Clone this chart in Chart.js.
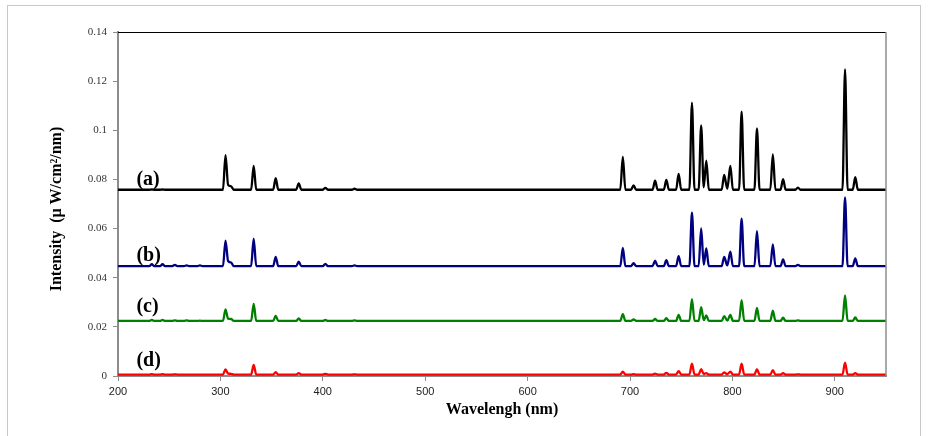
<!DOCTYPE html>
<html><head><meta charset="utf-8">
<script src="https://cdn.jsdelivr.net/npm/chart.js@4"></script>
<style>
html,body{margin:0;padding:0;background:#fff;}
#wrap{position:relative;width:929px;height:436px;overflow:hidden;}
#frame{position:absolute;left:7px;top:5px;width:914px;height:440px;border:1px solid #c8c8c8;box-sizing:border-box;}
canvas{position:absolute;left:0;top:0;}
</style></head><body>
<div id="wrap"><div id="frame"></div><canvas id="c" width="929" height="436"></canvas></div>
<script>
// ---- data ----
const seriesNames = ['(a)', '(b)', '(c)', '(d)'];
const xTicks = [200, 300, 400, 500, 600, 700, 800, 900];
const yTicks = [0, 0.02, 0.04, 0.06, 0.08, 0.1, 0.12, 0.14];
const yTickLabels = ['0', '0.02', '0.04', '0.06', '0.08', '0.1', '0.12', '0.14'];
const xTitle = 'Wavelengh (nm)';
const yTitle = 'Intensity  (\u03bc W/cm\u00b2/nm)';

const wavelengths = [200,
 230.5,233,235.5, 241,243.5,246, 253,255.5,258, 264.5,267,269.5, 277.5,280,282.5,
 302.5,305,307.5,310.5,313,
 330,332.5,335, 351.5,354,356.5, 374,376.5,379, 400,402.5,405, 428.5,431,433.5,
 690.5,693,695.5, 701,703.5,706, 722,724.5,727, 733,735.5,738, 745,747.5,750, 758,760.5,763,
 767,769.5,772,774.5,777,
 789.5,792,795,798,800.5,
 806.5,809,811.5, 821.5,824,826.5, 837,839.5,842, 847,849.5,852, 861.5,864,866.5, 907.5,910,912.5, 917.5,920,922.5,
 950];

const seriesA = [.0758,
 .0758,.0759,.0758, .0758,.0759,.0758, .0758,.0758,.0758, .0758,.0758,.0758, .0758,.0758,.0758,
 .0758,.0899,.0778,.0772,.0758,
 .0758,.0855,.0758, .0758,.0805,.0758, .0758,.0784,.0758, .0758,.0766,.0758, .0758,.0762,.0758,
 .0758,.0892,.0758, .0758,.0776,.0758, .0758,.0795,.0758, .0758,.0798,.0758, .0758,.0822,.0758, .0758,.1112,.0758,
 .0758,.1020,.0768,.0876,.0758,
 .0758,.0818,.0762,.0855,.0758,
 .0758,.1076,.0758, .0758,.1008,.0758, .0758,.0902,.0758, .0758,.0801,.0758, .0758,.0767,.0758, .0758,.1248,.0758, .0758,.0809,.0758,
 .0758];

const seriesB = [.0447,
 .0447,.0455,.0447, .0447,.0455,.0447, .0447,.0452,.0447, .0447,.0450,.0447, .0447,.0450,.0447,
 .0447,.0551,.0468,.0462,.0447,
 .0447,.0559,.0447, .0447,.0485,.0447, .0447,.0465,.0447, .0447,.0456,.0447, .0447,.0450,.0447,
 .0447,.0521,.0447, .0447,.0459,.0447, .0447,.0469,.0447, .0447,.0471,.0447, .0447,.0488,.0447, .0447,.0665,.0447,
 .0447,.0601,.0453,.0519,.0447,
 .0447,.0485,.0450,.0506,.0447,
 .0447,.0640,.0447, .0447,.0590,.0447, .0447,.0536,.0447, .0447,.0475,.0447, .0447,.0452,.0447, .0447,.0727,.0447, .0447,.0479,.0447,
 .0447];

const seriesC = [.0224,
 .0224,.0228,.0224, .0224,.0228,.0224, .0224,.0226,.0224, .0224,.0226,.0224, .0224,.0225,.0224,
 .0224,.0271,.0233,.0232,.0224,
 .0224,.0293,.0224, .0224,.0245,.0224, .0224,.0234,.0224, .0224,.0228,.0224, .0224,.0226,.0224,
 .0224,.0252,.0224, .0224,.0230,.0224, .0224,.0232,.0224, .0224,.0235,.0224, .0224,.0249,.0224, .0224,.0313,.0224,
 .0224,.0280,.0227,.0247,.0224,
 .0224,.0244,.0225,.0249,.0224,
 .0224,.0309,.0224, .0224,.0277,.0224, .0224,.0266,.0224, .0224,.0237,.0224, .0224,.0226,.0224, .0224,.0328,.0224, .0224,.0238,.0224,
 .0224];

const seriesD = [.0006,
 .0006,.0008,.0006, .0006,.0008,.0006, .0006,.0007,.0006, .0006,.0006,.0006, .0006,.0006,.0006,
 .0006,.0027,.0010,.0009,.0006,
 .0006,.0045,.0006, .0006,.0016,.0006, .0006,.0012,.0006, .0006,.0009,.0006, .0006,.0007,.0006,
 .0006,.0018,.0006, .0006,.0008,.0006, .0006,.0010,.0006, .0006,.0013,.0006, .0006,.0020,.0006, .0006,.0050,.0006,
 .0006,.0028,.0008,.0012,.0006,
 .0006,.0015,.0007,.0018,.0006,
 .0006,.0050,.0006, .0006,.0028,.0006, .0006,.0024,.0006, .0006,.0012,.0006, .0006,.0007,.0006, .0006,.0054,.0006, .0006,.0012,.0006,
 .0006];

// label anchor values (in data units)
const labelX = 218;
const labelY = [0.0798, 0.0488, 0.0281, 0.0061];

// ---- chart ----
const colors = ['#000000', '#000080', '#008000', '#ff0000'];
const allSeries = [seriesA, seriesB, seriesC, seriesD];
const datasets = allSeries.map((s, k) => ({
  label: seriesNames[k],
  data: wavelengths.map((x, i) => ({x: x, y: s[i]})),
  borderColor: colors[k],
  backgroundColor: colors[k],
  borderWidth: 2.3,
  borderJoinStyle: 'round',
  borderCapStyle: 'round',
  cubicInterpolationMode: 'monotone',
  pointRadius: 0,
  fill: false
}));

const serif = "'Liberation Serif', 'Times New Roman', serif";
const narrow = "'Liberation Sans Narrow', 'Arial Narrow', 'Liberation Sans', sans-serif";

const deco = {
  id: 'deco',
  afterDraw(chart) {
    const ctx = chart.ctx, a = chart.chartArea;
    const xs = chart.scales.x, ys = chart.scales.y;
    ctx.save();
    ctx.strokeStyle = '#000'; ctx.lineWidth = 1;
    ctx.beginPath(); ctx.moveTo(a.left, a.top + 0.5); ctx.lineTo(a.right, a.top + 0.5); ctx.stroke();
    ctx.strokeStyle = '#8c8c8c'; ctx.lineWidth = 1.5;
    ctx.beginPath(); ctx.moveTo(a.right, a.top); ctx.lineTo(a.right, a.bottom); ctx.stroke();
    ctx.fillStyle = '#000';
    ctx.font = 'bold 20px ' + serif;
    ctx.textAlign = 'left'; ctx.textBaseline = 'middle';
    seriesNames.forEach((n, k) => ctx.fillText(n, xs.getPixelForValue(labelX), ys.getPixelForValue(labelY[k])));
    ctx.font = 'bold 16px ' + serif;
    ctx.textAlign = 'center';
    ctx.fillText(xTitle, (a.left + a.right) / 2, 410);
    ctx.translate(57, 209);
    ctx.rotate(-Math.PI / 2);
    ctx.fillText(yTitle, 0, 0);
    ctx.restore();
  }
};

new Chart(document.getElementById('c'), {
  type: 'line',
  data: {datasets: datasets},
  options: {
    responsive: false,
    animation: false,
    devicePixelRatio: 1,
    layout: {padding: {left: 0, right: 43, top: 32, bottom: 0}},
    plugins: {legend: {display: false}, tooltip: {enabled: false}},
    scales: {
      x: {
        type: 'linear', min: 200, max: 950,
        afterBuildTicks: s => { s.ticks = xTicks.map(v => ({value: v})); },
        afterFit: s => { s.height = 60; },
        grid: {drawOnChartArea: false, drawTicks: true, tickLength: 5, color: '#8c8c8c', lineWidth: 1},
        border: {color: '#8c8c8c', width: 2},
        ticks: {color: '#222', font: {family: narrow, size: 11}, padding: 4, maxRotation: 0,
                callback: v => String(v)}
      },
      y: {
        type: 'linear', min: 0, max: 0.14,
        afterBuildTicks: s => { s.ticks = yTicks.map(v => ({value: v})); },
        afterFit: s => { s.width = 118; },
        grid: {drawOnChartArea: false, drawTicks: true, tickLength: 5, color: '#8c8c8c', lineWidth: 1},
        border: {color: '#8c8c8c', width: 2},
        ticks: {color: '#333', font: {family: serif, size: 11}, padding: 6,
                callback: (v) => { const i = yTicks.findIndex(t => Math.abs(t - v) < 1e-9); return i >= 0 ? yTickLabels[i] : ''; }}
      }
    }
  },
  plugins: [deco]
});
</script>
</body></html>
